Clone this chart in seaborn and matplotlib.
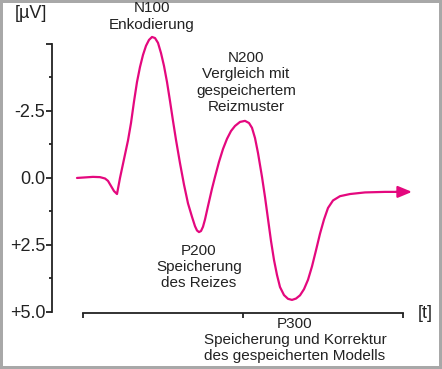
import matplotlib
matplotlib.use("Agg")
import matplotlib.pyplot as plt
import seaborn as sns
import pandas as pd

# ERP waveform: time (arbitrary units) and amplitude in µV
t = [-6, 2, 10, 17, 22, 25, 28, 31, 34, 37, 41, 45, 48, 51, 54, 57, 60, 63, 66, 69,
     72, 75, 78, 81, 84, 87, 90, 93, 97, 101, 105, 109, 112, 114, 116, 118, 120, 122,
     125, 129, 132, 136, 140, 144, 148, 152, 157, 162, 166, 169, 172, 175, 179, 182,
     185, 188, 191, 194, 197, 201, 205, 209, 213, 217, 221, 225, 229, 233, 237, 241,
     245, 250, 257, 267, 282, 302, 317]
uv = [0.00, -0.02, -0.04, -0.03, 0.02, 0.11, 0.30, 0.49, 0.60, 0.00, -0.70, -1.40,
      -2.05, -2.85, -3.58, -4.14, -4.59, -4.93, -5.15, -5.26, -5.22, -5.04, -4.66,
      -4.18, -3.58, -2.87, -2.13, -1.42, -0.55, 0.25, 0.95, 1.45, 1.80, 1.96, 2.02,
      1.98, 1.82, 1.55, 1.05, 0.40, -0.04, -0.60, -1.08, -1.46, -1.75, -1.94, -2.09,
      -2.13, -2.05, -1.87, -1.49, -0.93, -0.04, 0.71, 1.53, 2.35, 3.06, 3.62, 4.07,
      4.37, 4.51, 4.55, 4.50, 4.38, 4.15, 3.80, 3.30, 2.70, 2.08, 1.55, 1.12, 0.84,
      0.68, 0.60, 0.54, 0.52, 0.52]

y_ticks = [-5.0, -2.5, 0.0, 2.5, 5.0]
y_ticklabels = ["", "-2.5", "0.0", "+2.5", "+5.0"]
y_minor = [-3.75, -1.25, 1.25, 3.75]
x_ticks = [0, 160, 320]

lbl_n100 = "N100\nEnkodierung"
lbl_n200 = "N200\nVergleich mit\ngespeichertem\nReizmuster"
lbl_p200 = "P200\nSpeicherung\ndes Reizes"
lbl_p300 = "P300\nSpeicherung und Korrektur\ndes gespeicherten Modells"

df = pd.DataFrame({"t": t, "uv": uv})

sns.set_theme(style="ticks")
plt.rcParams["font.family"] = ["Liberation Sans", "DejaVu Sans"]

pink = "#E4087E"
ink = "#222222"

fig = plt.figure(figsize=(4.42, 3.69), dpi=100)
ax = fig.add_axes([52 / 442, 1 - 312.5 / 369, 368 / 442, 282.5 / 369])

sns.lineplot(data=df, x="t", y="uv", color=pink, linewidth=1.6, estimator=None, ax=ax)
ax.annotate("", xy=(t[-1] + 12, uv[-1]), xytext=(t[-1] - 4, uv[-1]),
            arrowprops=dict(arrowstyle="-|>,head_length=0.6,head_width=0.25",
                            color=pink, lw=1.6, mutation_scale=14,
                            shrinkA=0, shrinkB=0))

ax.set_xlim(-31, 337)
ax.set_ylim(5.02, -5.52)

sns.despine(ax=ax)
ax.spines["left"].set_bounds(-5, 5)
ax.spines["bottom"].set_bounds(0, 320)
for s in ("left", "bottom"):
    ax.spines[s].set_color(ink)
    ax.spines[s].set_linewidth(1.3)

ax.set_yticks(y_ticks)
ax.set_yticklabels(y_ticklabels)
ax.set_yticks(y_minor, minor=True)
ax.set_xticks(x_ticks)
ax.set_xticklabels([])
ax.tick_params(axis="y", which="major", length=4.3, width=1.3, color=ink,
               labelsize=13, labelcolor=ink, pad=0.5)
ax.tick_params(axis="y", which="minor", length=2.2, width=1.3, color=ink)
ax.tick_params(axis="x", which="major", length=3.8, width=1.3, color=ink)

ax.set_ylabel("[µV]", rotation=0, fontsize=13, color=ink, ha="center", va="center")
ax.yaxis.set_label_coords(-0.057, 1.057)
ax.set_xlabel("[t]", fontsize=13, color=ink, ha="center", va="center")
ax.xaxis.set_label_coords(1.014, -0.002)

txt = dict(fontsize=11, color=ink, ha="center", linespacing=1.2)
ax.text(69, -5.46, lbl_n100, va="bottom", **txt)
ax.text(163, -2.39, lbl_n200, va="bottom", **txt)
ax.text(116, 2.46, lbl_p200, va="top", **txt)
ax.text(212, 5.18, lbl_p300, va="top", **txt)

ax.set_facecolor("white")
fig.patch.set_facecolor("white")
fig.patch.set_edgecolor("#a8a8a8")
fig.patch.set_linewidth(3)
fig.savefig("out.png", dpi=100, edgecolor="#a8a8a8", facecolor="white")
